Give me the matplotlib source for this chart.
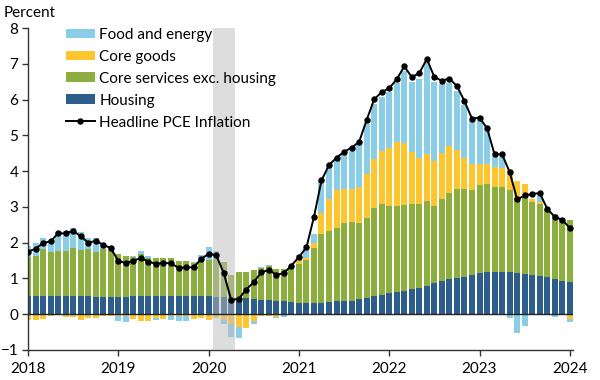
import matplotlib
matplotlib.use("Agg")
import matplotlib.pyplot as plt
import numpy as np
from matplotlib.patches import Patch
from matplotlib.lines import Line2D

plt.rcParams['font.family'] = ['Lato', 'DejaVu Sans']

# Monthly data Jan 2018 - Jan 2024 (percentage points)
housing = [
    0.50,0.50,0.51,0.51,0.51,0.50,0.50,0.50,0.50,0.49,0.49,0.48,
    0.49,0.49,0.50,0.50,0.50,0.51,0.51,0.51,0.50,0.50,0.50,0.50,
    0.50,0.49,0.48,0.42,0.45,0.45,0.43,0.40,0.39,0.38,0.36,0.35,
    0.32,0.32,0.32,0.32,0.33,0.36,0.36,0.38,0.43,0.46,0.51,0.55,
    0.59,0.63,0.66,0.70,0.74,0.80,0.86,0.92,0.98,1.01,1.05,1.11,
    1.14,1.17,1.18,1.18,1.18,1.15,1.13,1.10,1.06,1.03,0.98,0.93,
    0.91]
core_services = [
    1.10,1.12,1.31,1.22,1.26,1.27,1.35,1.30,1.32,1.26,1.33,1.32,
    1.20,1.14,1.10,1.17,1.07,1.05,1.07,1.06,0.99,1.00,0.93,0.99,
    1.03,1.06,0.98,0.68,0.74,0.74,0.80,0.90,0.97,0.89,0.90,0.97,
    1.08,1.19,1.52,1.92,1.99,2.06,2.18,2.19,2.13,2.22,2.47,2.52,
    2.44,2.41,2.39,2.37,2.33,2.36,2.16,2.29,2.40,2.50,2.45,2.36,
    2.48,2.48,2.38,2.37,2.30,2.09,2.17,2.04,2.03,1.89,1.80,1.75,
    1.72]
core_goods = [
    -0.15,-0.17,-0.14,-0.06,-0.03,-0.07,-0.09,-0.15,-0.10,-0.10,-0.04,-0.04,
    -0.05,-0.05,-0.14,-0.20,-0.19,-0.10,-0.12,-0.05,-0.05,-0.05,-0.12,-0.10,
    -0.17,-0.10,-0.16,-0.27,-0.35,-0.38,-0.20,-0.05,-0.05,-0.08,-0.03,0.00,
    0.08,0.05,0.15,0.60,0.89,1.05,0.97,0.94,1.00,1.25,1.35,1.49,
    1.62,1.78,1.75,1.47,1.31,1.31,1.26,1.29,1.33,1.08,0.88,0.73,
    0.59,0.54,0.57,0.53,0.55,0.48,0.34,0.09,0.05,0.03,0.03,0.00,
    -0.13]
food_energy = [
    0.30,0.38,0.31,0.35,0.52,0.55,0.55,0.50,0.30,0.38,0.18,0.07,
    -0.15,-0.17,0.04,0.09,0.06,-0.05,-0.02,-0.12,-0.14,-0.14,0.03,0.17,
    0.35,0.23,-0.10,-0.37,-0.31,0.00,-0.06,0.03,0.03,-0.03,-0.06,0.02,
    0.17,0.26,0.26,0.88,1.00,0.84,0.94,1.06,1.17,1.39,1.55,1.50,
    1.55,1.64,1.99,1.96,2.19,2.55,2.22,1.93,1.75,1.66,1.47,1.21,
    1.27,0.99,0.29,0.32,-0.10,-0.52,-0.34,0.00,0.19,0.00,-0.08,0.00,
    -0.09]
headline = [
    1.75,1.83,1.99,2.04,2.26,2.26,2.33,2.18,2.00,2.05,1.94,1.85,
    1.49,1.43,1.50,1.57,1.47,1.41,1.44,1.42,1.30,1.31,1.31,1.54,
    1.69,1.65,1.16,0.40,0.43,0.69,0.90,1.17,1.24,1.10,1.15,1.36,
    1.60,1.87,2.72,3.74,4.17,4.38,4.54,4.66,4.82,5.43,6.01,6.21,
    6.32,6.57,6.93,6.63,6.74,7.14,6.63,6.53,6.59,6.38,5.96,5.47,
    5.50,5.20,4.47,4.47,3.98,3.21,3.32,3.36,3.39,2.95,2.72,2.64,
    2.41]
year_labels = ['2018', '2019', '2020', '2021', '2022', '2023', '2024']
recession_months = (25, 27)  # Feb 2020 - Apr 2020 (month index)

c_fe = '#8ACDE6'
c_goods = '#FDC62F'
c_serv = '#8BAE3E'
c_house = '#2D5D8B'

H = np.array(housing); S = np.array(core_services)
G = np.array(core_goods); F = np.array(food_energy)
x = np.arange(len(H))

fig = plt.figure(figsize=(6, 3.8), dpi=100)
ax = fig.add_axes([0.0467, 0.079, 0.908, 0.847])

w = 0.8
kw = dict(width=w, linewidth=0, zorder=2)
ax.bar(x, H, color=c_house, **kw)
ax.bar(x, S, bottom=H, color=c_serv, **kw)
gpos = np.clip(G, 0, None); gneg = np.clip(G, None, 0)
ax.bar(x, gpos, bottom=H + S, color=c_goods, **kw)
ax.bar(x, gneg, color=c_goods, **kw)
fpos = np.clip(F, 0, None); fneg = np.clip(F, None, 0)
ax.bar(x, fpos, bottom=H + S + gpos, color=c_fe, **kw)
ax.bar(x, fneg, bottom=gneg, color=c_fe, **kw)

ax.axvspan(recession_months[0] - 0.45, recession_months[1] + 0.5,
           color='#BDBDBD', alpha=0.5, linewidth=0, zorder=3)

ax.axhline(0, color='#222222', linewidth=1.0, zorder=4)
ax.plot(x, headline, color='black', linewidth=1.4, marker='o',
        markersize=3.6, zorder=5)

ax.set_xlim(0, 72.4)
ax.set_ylim(-1, 8)
ax.set_yticks(range(-1, 9))
ax.set_xticks(np.arange(0, 73, 12))
ax.set_xticklabels(year_labels)
for s in ['top', 'right']:
    ax.spines[s].set_visible(False)
for s in ['left', 'bottom']:
    ax.spines[s].set_color('#333333')
    ax.spines[s].set_linewidth(1.0)
ax.tick_params(axis='both', direction='out', length=4, width=1,
               color='#333333', labelsize=11, pad=3)
ax.tick_params(axis='x', pad=5)

fig.text(0.006, 0.965, 'Percent', fontsize=11, ha='left', va='center')

handles = [
    Patch(facecolor=c_fe, label='Food and energy'),
    Patch(facecolor=c_goods, label='Core goods'),
    Patch(facecolor=c_serv, label='Core services exc. housing'),
    Patch(facecolor=c_house, label='Housing'),
    Line2D([0], [0], color='black', linewidth=1.4, marker='o',
           markersize=3.6, label='Headline PCE Inflation'),
]
ax.legend(handles=handles, loc='upper left', bbox_to_anchor=(0.058, 1.02),
          frameon=False, fontsize=11, handlelength=1.9, handleheight=0.6,
          handletextpad=0.3, labelspacing=0.52, borderaxespad=0)

fig.savefig('out.png', dpi=100)
